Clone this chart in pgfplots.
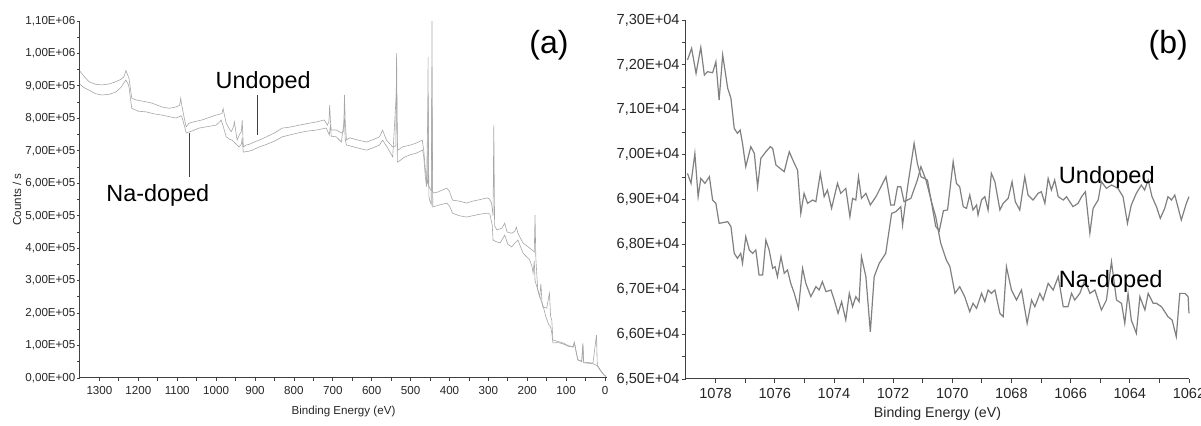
\documentclass[border=0pt]{standalone}
\usepackage{fontspec}
\setmainfont{Liberation Sans}
\usepackage{pgfplots}
\pgfplotsset{compat=1.18}

% survey spectra, panel (a)
\pgfplotstableread{
x y
1350 945000
1340 930000
1327 913000
1310 905000
1294 903000
1275 906000
1258 913000
1245 920000
1237 928000
1232 947000
1228 935000
1224 924000
1217 863000
1210 858000
1203 856000
1185 852000
1165 847000
1150 840000
1139 835000
1121 831000
1103 835000
1094 840000
1091 862000
1089 845000
1085 820000
1080 790000
1077 774000
1070 785000
1055 790000
1036 795000
1020 802000
1000 810000
985 815000
982 830000
979 812000
974 785000
965 765000
961 759000
955 775000
953 789000
950 765000
946 733000
940 750000
935 760000
933 795000
931 740000
930 712000
922 718000
915 720000
900 728000
889 733000
871 743000
850 755000
830 770000
810 773000
786 779000
765 784000
742 789000
722 795000
714 779000
710 790000
708 841000
706 790000
704 764000
691 764000
678 755000
672 760000
670 872000
668 790000
665 733000
657 740000
635 733000
613 727000
595 735000
580 743000
572 764000
566 745000
562 733000
546 712000
538 715000
536 1001000
534 730000
533 702000
521 712000
500 718000
485 724000
470 733000
466 700000
462 640000
458 605000
456 600000
455 989000
454 595000
449 580000
446 578000
445 1100000
444 575000
440 570000
430 573000
407 585000
400 575000
392 548000
375 545000
356 539000
340 545000
320 550000
304 555000
298 552000
292 540000
288 500000
286 779000
284 470000
278 456000
265 462000
258 477000
252 450000
240 446000
232 452000
228 465000
224 446000
211 416000
198 404000
187 394000
182 388000
180 502000
178 370000
173 271000
168 250000
165 290000
162 230000
160 219000
150 215000
143 262000
140 190000
137 179000
134 117000
120 112000
108 108000
95 100000
82 96000
79 111000
74 80000
70 55000
60 52000
57 108000
55 49000
40 47000
31 46000
22 132000
20 40000
15 30000
8 18000
2 9000
-3 5000
}\undopedA

\pgfplotstableread{
x y
1350 905000
1340 895000
1327 887000
1310 876000
1294 872000
1275 874000
1258 881000
1245 895000
1232 918000
1226 905000
1224 897000
1217 831000
1200 822000
1180 820000
1160 814000
1139 810000
1120 805000
1103 801000
1095 805000
1090 808000
1087 801000
1080 770000
1077 755000
1060 762000
1044 770000
1020 775000
1000 779000
990 790000
987 795000
983 780000
974 743000
965 735000
959 733000
950 722000
941 712000
935 720000
933 740000
931 705000
930 696000
915 699000
907 702000
889 712000
870 720000
850 730000
830 743000
800 752000
770 760000
742 764000
717 770000
709 749000
706 780000
704 745000
691 743000
678 727000
670 800000
668 735000
665 718000
640 710000
613 702000
595 710000
580 718000
572 733000
565 720000
559 709000
546 681000
536 890000
534 668000
533 665000
515 681000
500 688000
485 693000
469 702000
466 680000
462 619000
459 590000
455 870000
453 560000
451 548000
447 535000
445 958000
443 527000
430 532000
407 539000
400 530000
392 508000
375 500000
356 496000
340 500000
320 505000
304 508000
296 505000
290 470000
288 425000
280 420000
270 416000
258 440000
250 412000
240 404000
230 418000
224 425000
211 385000
194 364000
188 345000
185 323000
182 360000
180 300000
175 280000
165 240000
160 225000
152 188000
145 165000
140 157000
137 139000
134 108000
120 109000
108 105000
95 98000
82 95000
79 108000
74 78000
70 57000
60 50000
57 100000
55 47000
40 45000
31 44000
20 38000
15 28000
8 16000
2 8000
-3 4000
}\nadopedA

% Na 1s region, panel (b)
\pgfplotstableread{
x y
1078.95 72108
1078.81 72368
1078.66 71810
1078.50 72390
1078.38 71773
1078.27 71848
1078.10 71825
1077.99 72070
1077.88 71216
1077.76 72219
1077.59 71476
1077.48 71254
1077.37 70585
1077.26 70474
1077.17 70548
1077.09 70251
1076.98 69731
1076.81 70177
1076.69 70028
1076.58 69285
1076.47 69917
1076.30 70065
1076.15 70177
1076.07 70139
1075.96 69768
1075.68 69620
1075.51 70065
1075.34 69805
1075.23 69657
1075.12 68691
1075.01 69137
1074.89 68914
1074.72 68988
1074.61 68951
1074.46 69582
1074.33 69063
1074.22 69211
1074.08 68803
1073.88 69360
1073.77 69137
1073.60 69248
1073.46 68617
1073.37 69025
1073.26 68988
1073.17 69508
1073.07 69025
1072.92 69137
1072.77 68877
1072.58 69063
1072.41 69285
1072.24 69508
1072.08 68877
1071.96 68877
1071.85 69285
1071.74 69285
1071.63 68951
1071.40 69025
1071.18 69434
1071.06 69731
1070.89 69434
1070.72 69000
1070.56 68400
1070.44 68300
1070.30 68750
1070.16 68766
1069.97 69843
1069.86 69360
1069.75 69286
1069.63 68840
1069.52 68803
1069.41 69100
1069.30 68766
1069.18 68877
1069.13 68654
1069.01 68989
1068.90 69063
1068.79 68766
1068.68 69583
1068.56 69397
1068.39 68766
1068.28 68914
1068.11 69026
1067.98 69397
1067.87 68951
1067.72 68766
1067.55 69508
1067.44 69100
1067.27 68989
1067.10 69137
1066.99 69174
1066.87 68914
1066.76 69471
1066.65 69211
1066.54 69434
1066.42 69063
1066.25 68989
1066.14 69063
1066.03 68951
1065.92 68840
1065.75 68914
1065.63 69063
1065.50 69174
1065.35 68246
1065.24 68803
1065.07 68989
1064.96 69397
1064.79 69248
1064.62 69323
1064.51 69286
1064.40 69248
1064.23 69063
1064.08 68469
1063.95 68877
1063.78 69137
1063.61 69323
1063.50 69211
1063.38 69434
1063.25 69063
1063.10 68840
1062.97 68580
1062.82 68803
1062.71 69063
1062.59 68989
1062.48 69100
1062.26 68543
1062.09 68914
1062.00 69063
}\undopedB

\pgfplotstableread{
x y
1078.95 69582
1078.83 69360
1078.70 70028
1078.59 69063
1078.50 69471
1078.36 69360
1078.21 69508
1078.10 68988
1077.99 68914
1077.88 68468
1077.59 68506
1077.48 68394
1077.37 67800
1077.26 67689
1077.15 67800
1077.09 67577
1076.98 68172
1076.86 67874
1076.75 67800
1076.64 67874
1076.53 67317
1076.41 67317
1076.30 68097
1076.19 67874
1076.07 67466
1075.99 67503
1075.91 67280
1075.79 67726
1075.68 67354
1075.57 67429
1075.46 67132
1075.34 66909
1075.20 66575
1075.06 67466
1074.95 67132
1074.78 66835
1074.61 67057
1074.50 66983
1074.39 67169
1074.27 66946
1074.10 66983
1073.99 66760
1073.86 66463
1073.74 66723
1073.60 66315
1073.48 66909
1073.37 66612
1073.26 66835
1073.15 66723
1073.07 67726
1072.92 67280
1072.77 66050
1072.64 67280
1072.47 67577
1072.25 67800
1072.05 68691
1071.91 68728
1071.74 68840
1071.68 68431
1071.51 69285
1071.29 70251
1071.18 69805
1071.06 69508
1070.84 69434
1070.72 68988
1070.56 68617
1070.39 68023
1070.20 67652
1070.08 67503
1069.91 66909
1069.75 67057
1069.58 66834
1069.41 66500
1069.30 66686
1069.18 66574
1069.01 66908
1068.90 66723
1068.79 66983
1068.68 66908
1068.56 66983
1068.39 66463
1068.28 66388
1068.17 67502
1068.00 66983
1067.83 66760
1067.66 66983
1067.47 66240
1067.32 66760
1067.21 66611
1067.04 66908
1066.93 66760
1066.76 67131
1066.59 66983
1066.42 67280
1066.25 66611
1066.09 66611
1065.97 66908
1065.86 66760
1065.69 66908
1065.52 67205
1065.35 66908
1065.18 66983
1064.96 66537
1064.79 66760
1064.62 67614
1064.45 66760
1064.28 66686
1064.17 66240
1064.06 66908
1063.95 66314
1063.78 66017
1063.66 66834
1063.49 66537
1063.38 66908
1063.21 66686
1063.10 66686
1062.93 66611
1062.71 66388
1062.57 66314
1062.43 65943
1062.31 66908
1062.14 66908
1062.03 66834
1062.00 66463
}\nadopedB

\begin{document}
\begin{tikzpicture}
\useasboundingbox (0,0) rectangle (600.5pt,213pt);

\begin{axis}[
  at={(40pt,24pt)}, anchor=south west,
  scale only axis, width=263.5pt, height=178.5pt,
  x dir=reverse,
  xmin=-5, xmax=1350, ymin=0, ymax=1100000,
  axis x line*=bottom, axis y line*=left,
  axis line style={-, draw=black!75, line width=0.5pt},
  tick align=outside, major tick length=1.5pt, minor tick length=1.5pt,
  tick style={draw=black!75, line width=0.4pt},
  minor x tick num=1, minor y tick num=1,
  scaled ticks=false,
  xtick={0,100,200,300,400,500,600,700,800,900,1000,1100,1200,1300},
  xticklabels={0,100,200,300,400,500,600,700,800,900,1000,1100,1200,1300},
  ytick={0,100000,200000,300000,400000,500000,600000,700000,800000,900000,1000000,1100000},
  yticklabels={{0,00E+00},{1,00E+05},{2,00E+05},{3,00E+05},{4,00E+05},{5,00E+05},{6,00E+05},{7,00E+05},{8,00E+05},{9,00E+05},{1,00E+06},{1,10E+06}},
  ticklabel style={font=\fontsize{5.8}{6}\selectfont, text=black!85},
  yticklabel style={inner xsep=0.6pt},
  xticklabel style={inner ysep=2.5pt},
  xlabel={Binding Energy (eV)},
  ylabel={Counts / s},
  label style={font=\fontsize{5.8}{6}\selectfont, text=black!85},
  xlabel style={at={(axis description cs:0.5,0)}, anchor=center, yshift=-17pt},
  ylabel style={at={(axis description cs:-0.1195,0.5)}, anchor=center},
  clip=false,
]
\addplot[draw=black!35, line width=0.3pt] table[x=x,y=y] {\undopedA};
\addplot[draw=black!35, line width=0.3pt] table[x=x,y=y] {\nadopedA};
\draw[black!75, line width=0.4pt] (axis cs:894,872000) -- (axis cs:894,749000);
\draw[black!75, line width=0.4pt] (axis cs:1068,754000) -- (axis cs:1068,620000);
\node[anchor=base west, inner sep=0pt, font=\fontsize{11.7}{13}\selectfont] at (axis cs:1002,892600) {Undoped};
\node[anchor=base west, inner sep=0pt, font=\fontsize{11.7}{13}\selectfont] at (axis cs:1283,543200) {Na-doped};
\node[anchor=center, inner sep=0pt, font=\fontsize{16}{18}\selectfont] at (axis cs:144,1026000) {(a)};
\end{axis}

\begin{axis}[
  at={(343pt,23.5pt)}, anchor=south west,
  scale only axis, width=251.5pt, height=179.5pt,
  x dir=reverse,
  xmin=1062, xmax=1079, ymin=65000, ymax=73000,
  axis x line*=bottom, axis y line*=left,
  axis line style={-, draw=black!75, line width=0.5pt},
  tick align=outside, major tick length=2pt, minor tick length=2pt,
  tick style={draw=black!75, line width=0.4pt},
  minor x tick num=1, minor y tick num=1,
  scaled ticks=false,
  xtick={1062,1064,1066,1068,1070,1072,1074,1076,1078},
  xticklabels={1062,1064,1066,1068,1070,1072,1074,1076,1078},
  ytick={65000,66000,67000,68000,69000,70000,71000,72000,73000},
  yticklabels={{6,50E+04},{6,60E+04},{6,70E+04},{6,80E+04},{6,90E+04},{7,00E+04},{7,10E+04},{7,20E+04},{7,30E+04}},
  ticklabel style={font=\fontsize{7.3}{8}\selectfont, text=black!85},
  yticklabel style={inner xsep=1pt},
  xticklabel style={inner ysep=2.5pt},
  xlabel={Binding Energy (eV)},
  label style={font=\fontsize{7.1}{8}\selectfont, text=black!85},
  xlabel style={at={(axis description cs:0.5,0)}, anchor=center, yshift=-17.5pt},
  clip=false,
]
\addplot[draw=black!50, line width=0.6pt] table[x=x,y=y] {\undopedB};
\addplot[draw=black!50, line width=0.6pt] table[x=x,y=y] {\nadopedB};
\node[anchor=base west, inner sep=0pt, font=\fontsize{11.8}{13}\selectfont] at (axis cs:1066.41,69367) {Undoped};
\node[anchor=base west, inner sep=0pt, font=\fontsize{11.8}{13}\selectfont] at (axis cs:1066.41,67028) {Na-doped};
\node[anchor=center, inner sep=0pt, font=\fontsize{16}{18}\selectfont] at (axis cs:1062.7,72442) {(b)};
\end{axis}
\end{tikzpicture}
\end{document}
